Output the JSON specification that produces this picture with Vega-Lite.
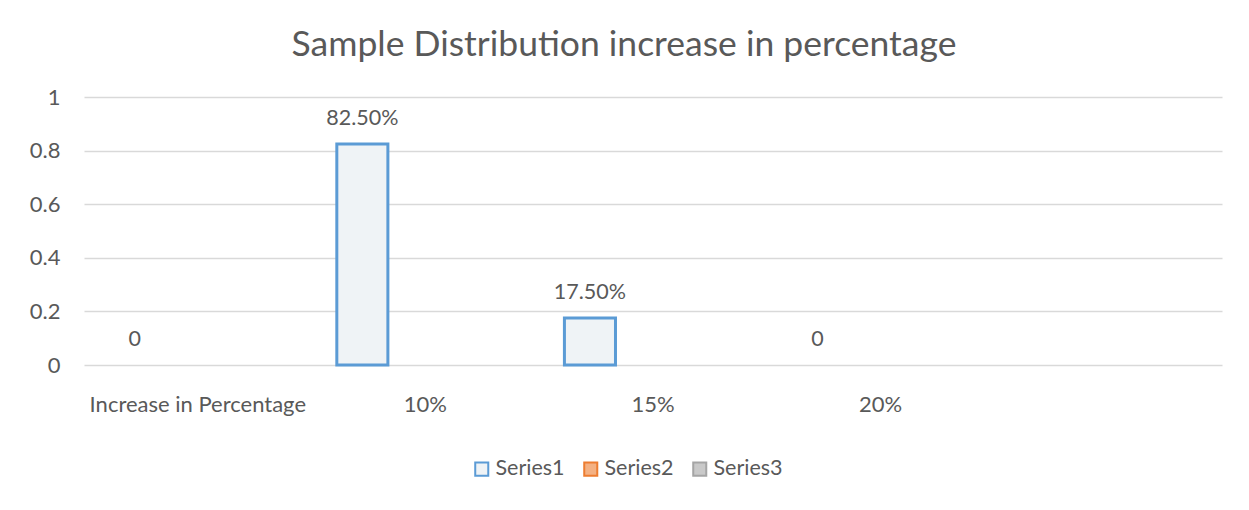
{
  "$schema": "https://vega.github.io/schema/vega-lite/v6.json",
  "width": 1138,
  "height": 268,
  "autosize": {"type": "none"},
  "padding": {"left": 84, "top": 97, "right": 27, "bottom": 145},
  "background": "white",
  "title": {
    "text": "Sample Distribution increase in percentage",
    "font": "Lato",
    "fontSize": 35.5,
    "fontWeight": "normal",
    "color": "#595959",
    "anchor": "middle",
    "dx": -29,
    "offset": 23
  },
  "config": {
    "view": {"stroke": null},
    "font": "Lato",
    "axis": {"labelFont": "Lato", "labelColor": "#595959", "labelFontSize": 22}
  },
  "data": {
    "values": [
      {"category": "Increase in Percentage", "series": "Series1", "value": 0},
      {"category": "10%", "series": "Series1", "value": 0.825},
      {"category": "15%", "series": "Series1", "value": 0.175},
      {"category": "20%", "series": "Series1", "value": 0}
    ]
  },
  "encoding": {
    "x": {
      "field": "category",
      "type": "nominal",
      "sort": null,
      "scale": {
        "domain": ["Increase in Percentage", "10%", "15%", "20%", "(blank)"],
        "paddingInner": 0,
        "paddingOuter": 0
      },
      "axis": {
        "title": null,
        "labelAngle": 0,
        "ticks": false,
        "domain": false,
        "labelPadding": 29,
        "labelLimit": 0,
        "labelExpr": "datum.value === '(blank)' ? '' : datum.value"
      }
    },
    "xOffset": {
      "field": "series",
      "type": "nominal",
      "scale": {
        "domain": ["Series1", "Series2", "Series3"],
        "paddingInner": 0.19,
        "paddingOuter": 0.4
      }
    },
    "y": {
      "field": "value",
      "type": "quantitative",
      "scale": {"domain": [0, 1]},
      "axis": {
        "title": null,
        "values": [0, 0.2, 0.4, 0.6, 0.8, 1],
        "format": "~g",
        "ticks": false,
        "domain": false,
        "labelPadding": 24,
        "gridColor": "#d9d9d9",
        "gridWidth": 1.3
      }
    }
  },
  "layer": [
    {
      "transform": [{"filter": "datum.value > 0"}],
      "mark": {"type": "bar", "strokeWidth": 3},
      "encoding": {
        "fill": {
          "field": "series",
          "type": "nominal",
          "scale": {
            "domain": ["Series1", "Series2", "Series3"],
            "range": ["#eff3f6", "#F4B183", "#C9C9C9"]
          },
          "legend": {
            "title": null,
            "orient": "none",
            "direction": "horizontal",
            "legendX": 387,
            "legendY": 361,
            "symbolType": "square",
            "symbolSize": 170,
            "symbolStrokeWidth": 2,
            "labelFontSize": 21.5,
            "labelColor": "#595959",
            "labelFont": "Lato",
            "columnPadding": 15,
            "labelOffset": 3
          }
        },
        "stroke": {
          "field": "series",
          "type": "nominal",
          "scale": {
            "domain": ["Series1", "Series2", "Series3"],
            "range": ["#5B9BD5", "#ED7D31", "#A5A5A5"]
          },
          "legend": {
            "title": null,
            "orient": "none",
            "direction": "horizontal",
            "legendX": 387,
            "legendY": 361,
            "symbolType": "square",
            "symbolSize": 170,
            "symbolStrokeWidth": 2,
            "labelFontSize": 21.5,
            "labelColor": "#595959",
            "labelFont": "Lato",
            "columnPadding": 15,
            "labelOffset": 3
          }
        }
      }
    },
    {
      "mark": {"type": "text", "dy": -25, "fontSize": 21.5, "color": "#595959", "font": "Lato"},
      "encoding": {
        "text": {
          "condition": {"test": "datum.value === 0", "value": "0"},
          "field": "value",
          "type": "quantitative",
          "format": ".2%"
        }
      }
    }
  ]
}
